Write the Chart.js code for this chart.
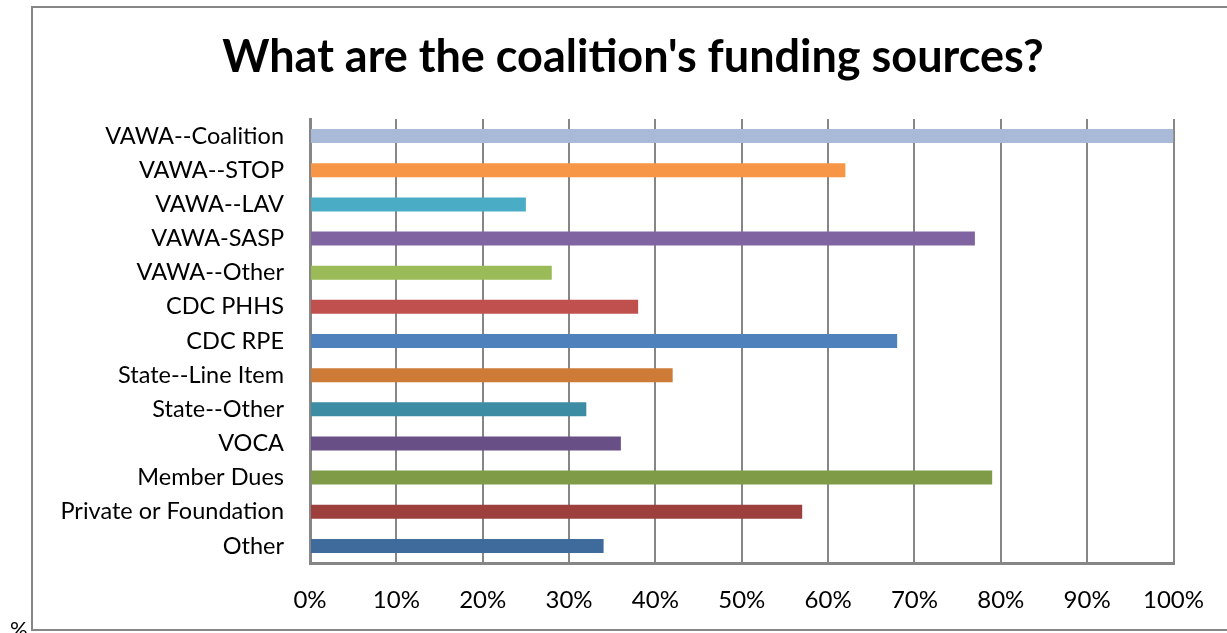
<!DOCTYPE html>
<html>
<head>
<meta charset="utf-8">
<script src="https://cdn.jsdelivr.net/npm/chart.js@4/dist/chart.umd.min.js"></script>
<style>
  html, body { margin: 0; padding: 0; background: #fff; overflow: hidden; }
  #wrap { position: relative; width: 1227px; height: 633px; }
  #title {
    position: absolute; left: 0; top: 33px; width: 1266px;
    text-align: center; font: bold 45px/45px Lato, 'Open Sans', sans-serif;
    color: #000; white-space: nowrap;
  }
  canvas { position: absolute; left: 0; top: 0; }
</style>
</head>
<body>
<div id="wrap">
  <canvas id="chart" width="1227" height="633"></canvas>
  <div id="title">What are the coalition's funding sources?</div>
</div>
<script>
const sources = [
  "VAWA--Coalition", "VAWA--STOP", "VAWA--LAV", "VAWA-SASP", "VAWA--Other",
  "CDC PHHS", "CDC RPE", "State--Line Item", "State--Other", "VOCA",
  "Member Dues", "Private or Foundation", "Other"
];
const shares = [100, 62, 25, 77, 28, 38, 68, 42, 32, 36, 79, 57, 34];
const barColors = [
  "#A9B9D8", "#F79646", "#4BACC6", "#8064A2", "#9BBB59",
  "#C0504D", "#4F81BD", "#CD7B37", "#3C8DA3", "#684F86",
  "#7F9B48", "#9D3F3D", "#3F6A9C"
];
const tickValues = [0, 10, 20, 30, 40, 50, 60, 70, 80, 90, 100];

const font = "Lato, 'Open Sans', sans-serif";
const gridGray = "#868686";

// outer frame and the stray "%" at the bottom left
const framePlugin = {
  id: "frame",
  afterDraw(chart) {
    const ctx = chart.ctx;
    ctx.save();
    ctx.strokeStyle = gridGray;
    ctx.lineWidth = 2;
    ctx.strokeRect(32, 7, 1240, 623);
    ctx.fillStyle = "#000";
    ctx.font = "22px " + font;
    ctx.textBaseline = "alphabetic";
    ctx.fillText("%", 10, 637);
    ctx.restore();
  }
};

new Chart(document.getElementById("chart").getContext("2d"), {
  type: "bar",
  data: {
    labels: sources,
    datasets: [{
      data: shares,
      backgroundColor: barColors,
      barPercentage: 0.41,
      categoryPercentage: 1.0
    }]
  },
  options: {
    indexAxis: "y",
    responsive: false,
    animation: false,
    layout: { padding: { left: 0, right: 52, top: 119, bottom: 0 } },
    plugins: {
      legend: { display: false },
      tooltip: { enabled: false },
      title: { display: false }
    },
    scales: {
      x: {
        min: 0,
        max: 100,
        afterBuildTicks(scale) {
          scale.ticks = tickValues.map(v => ({ value: v }));
        },
        afterFit(scale) { scale.height = 70; },
        ticks: {
          color: "#000",
          font: { family: font, size: 24 },
          padding: 23,
          callback: v => v + "%"
        },
        grid: { color: gridGray, lineWidth: 2, drawTicks: false },
        border: { color: gridGray, width: 3 }
      },
      y: {
        afterFit(scale) { scale.width = 310; },
        ticks: {
          color: "#000",
          font: { family: font, size: 23.5 },
          padding: 26
        },
        grid: { display: false, drawTicks: false },
        border: { color: gridGray, width: 3 }
      }
    }
  },
  plugins: [framePlugin]
});
</script>
</body>
</html>
